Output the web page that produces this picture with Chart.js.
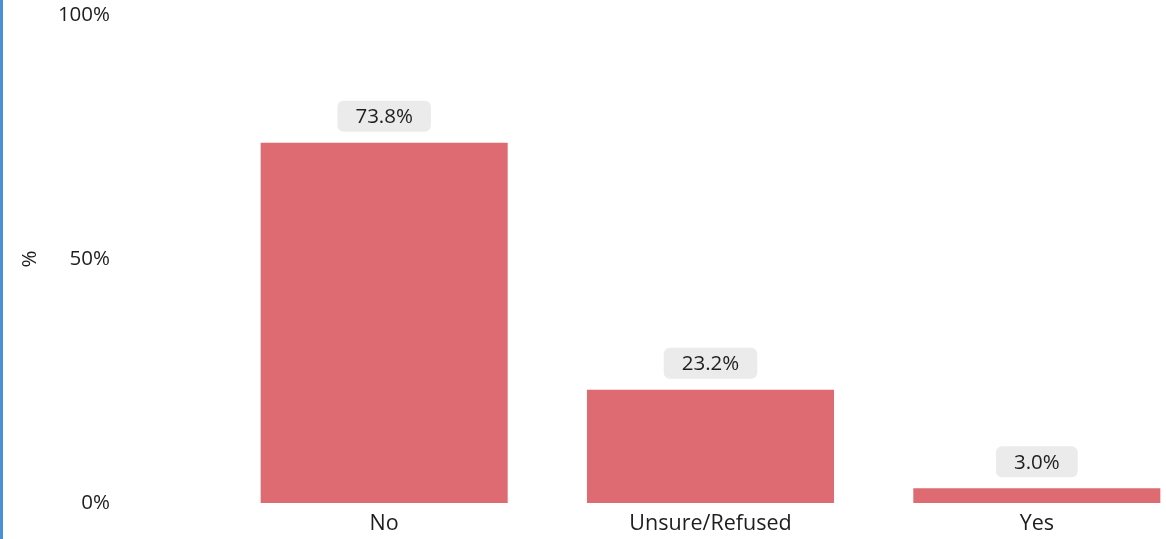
<!DOCTYPE html>
<html>
<head>
<meta charset="utf-8">
<script src="https://cdn.jsdelivr.net/npm/chart.js@4/dist/chart.umd.min.js"></script>
<style>
    html, body { margin: 0; padding: 0; background: #fff; overflow: hidden; }
    #wrap { position: relative; width: 1200px; height: 539px; }
    #edge { position: absolute; left: 0; top: 0; width: 3px; height: 539px; background: #4a8fd8; z-index: 2; }
    #chart { position: absolute; left: 0; top: 0; }
</style>
</head>
<body>
<div id="wrap">
    <div id="edge"></div>
    <canvas id="chart" width="1200" height="539"></canvas>
</div>
<script>
var categories = ['No', 'Unsure/Refused', 'Yes'];
var shares = [73.8, 23.2, 3.0];
var yTicks = [0, 50, 100];

var FONT = '"Open Sans", "Noto Sans", sans-serif';
var SIZE = 20.5;
var TEXT = '#1e1e1e';

// grey rounded value tags above each bar
var valueTags = {
    id: 'valueTags',
    afterDatasetsDraw: function(chart) {
        var ctx = chart.ctx;
        var meta = chart.getDatasetMeta(0);
        ctx.save();
        ctx.font = SIZE + 'px ' + FONT;
        ctx.textAlign = 'center';
        ctx.textBaseline = 'middle';
        meta.data.forEach(function(bar, i) {
            var text = shares[i].toFixed(1) + '%';
            var w = ctx.measureText(text).width + 36;
            var h = 31;
            var x = bar.x - w / 2;
            var y = bar.y - 11 - h;
            ctx.fillStyle = '#ebebeb';
            ctx.beginPath();
            ctx.roundRect(x, y, w, h, 6);
            ctx.fill();
            ctx.fillStyle = TEXT;
            ctx.fillText(text, bar.x, y + h / 2 + 1);
        });
        ctx.restore();
    }
};

var ctx = document.getElementById('chart').getContext('2d');
var chart = new Chart(ctx, {
    type: 'bar',
    data: {
        labels: categories,
        datasets: [{
            data: shares,
            backgroundColor: '#de6a72',
            borderWidth: 0,
            categoryPercentage: 1,
            barPercentage: 0.757
        }]
    },
    options: {
        responsive: false,
        animation: false,
        layout: { padding: { top: 15, right: 0, left: 0, bottom: 0 } },
        plugins: {
            legend: { display: false },
            tooltip: { enabled: false }
        },
        scales: {
            x: {
                grid: { display: false, drawTicks: false },
                border: { display: false },
                ticks: { color: TEXT, font: { family: FONT, size: 21.5 }, padding: 8 },
                afterFit: function(scale) { scale.height = 36; }
            },
            y: {
                min: 0,
                max: 100,
                afterBuildTicks: function(scale) {
                    scale.ticks = yTicks.map(function(v) { return { value: v }; });
                },
                grid: { display: false, drawTicks: false },
                border: { display: false },
                ticks: {
                    color: TEXT,
                    font: { family: FONT, size: SIZE },
                    padding: 111,
                    callback: function(v) { return v + '%'; }
                },
                title: {
                    display: true,
                    text: '%',
                    color: TEXT,
                    font: { family: FONT, size: SIZE },
                    padding: { top: 18, bottom: 0 }
                },
                afterFit: function(scale) {
                    // the wide tick padding should only push labels sideways
                    scale.width = 221;
                    scale.paddingTop = 0;
                    scale.paddingBottom = 0;
                }
            }
        }
    },
    plugins: [valueTags]
});
</script>
</body>
</html>
